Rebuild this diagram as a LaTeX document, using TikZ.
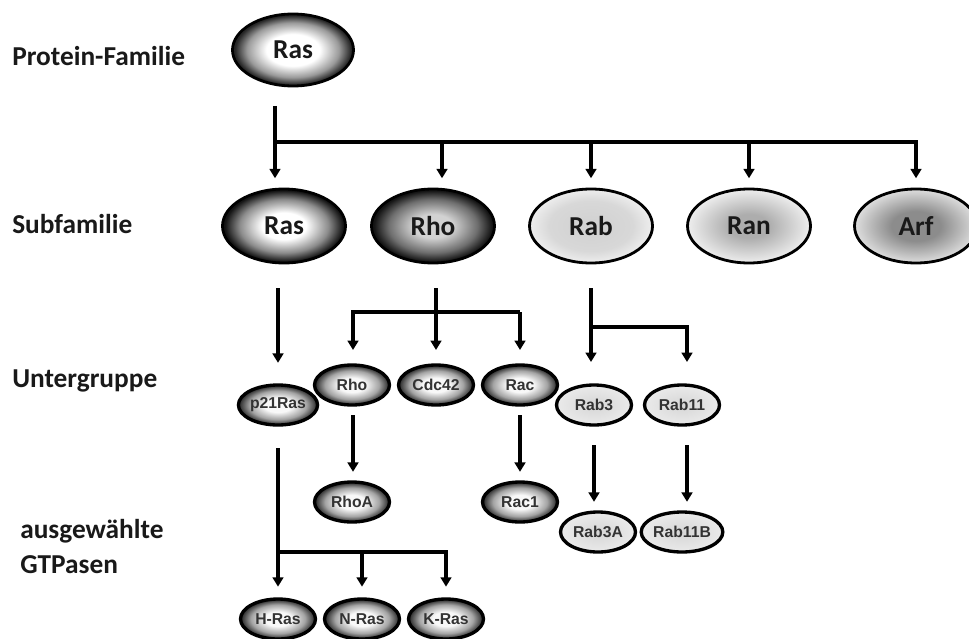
\documentclass[tikz,border=0pt]{standalone}
\usepackage{fontspec}
\setmainfont{Carlito}
\newfontfamily\arialfont{Liberation Sans}
\usetikzlibrary{shapes.geometric,arrows.meta}
\definecolor{cEdgeA}{HTML}{262626}
\definecolor{cMidA}{HTML}{9A9A9A}
\definecolor{cEdgeB}{HTML}{141414}
\definecolor{cMidB}{HTML}{8C8C8C}
\definecolor{cRhoIn}{HTML}{D2D2D2}
\definecolor{cRhoMid}{HTML}{6E6E6E}
\definecolor{cRabIn}{HTML}{D0D0D0}
\definecolor{cRabMid}{HTML}{D8D8D8}
\definecolor{cRabOut}{HTML}{EEEEEE}
\definecolor{cRanIn}{HTML}{ADADAD}
\definecolor{cRanOut}{HTML}{EEEEEE}
\definecolor{cArfIn}{HTML}{8C8C8C}
\definecolor{cArfOut}{HTML}{DEDEDE}
\definecolor{cSmIn}{HTML}{F8F8F8}
\definecolor{cSmMid}{HTML}{A4A4A4}
\definecolor{cSmOut}{HTML}{343434}
\definecolor{cLtIn}{HTML}{D6D6D6}
\definecolor{cLtOut}{HTML}{EAEAEA}
\definecolor{cSmText}{HTML}{333333}
\pgfdeclareradialshading{shRasTop}{\pgfpoint{0bp}{0bp}}{color(0bp)=(white); color(11bp)=(white); color(19bp)=(cMidA); color(24bp)=(cEdgeA); color(50bp)=(cEdgeA)}
\pgfdeclareradialshading{shRasSub}{\pgfpoint{0bp}{0bp}}{color(0bp)=(white); color(9bp)=(white); color(18bp)=(cMidB); color(24bp)=(cEdgeB); color(50bp)=(cEdgeB)}
\pgfdeclareradialshading{shRhoSub}{\pgfpoint{0bp}{0bp}}{color(0bp)=(cRhoIn); color(8bp)=(cRhoIn); color(18bp)=(cRhoMid); color(24bp)=(cEdgeB); color(50bp)=(cEdgeB)}
\pgfdeclareradialshading{shRab}{\pgfpoint{0bp}{0bp}}{color(0bp)=(cRabIn); color(17bp)=(cRabMid); color(25bp)=(cRabOut); color(50bp)=(cRabOut)}
\pgfdeclareradialshading{shRan}{\pgfpoint{0bp}{0bp}}{color(0bp)=(cRanIn); color(8bp)=(cRanIn); color(25bp)=(cRanOut); color(50bp)=(cRanOut)}
\pgfdeclareradialshading{shArf}{\pgfpoint{0bp}{0bp}}{color(0bp)=(cArfIn); color(10bp)=(cArfIn); color(25bp)=(cArfOut); color(50bp)=(cArfOut)}
\pgfdeclareradialshading{shSmDark}{\pgfpoint{0bp}{0bp}}{color(0bp)=(cSmIn); color(9bp)=(cSmIn); color(18bp)=(cSmMid); color(24bp)=(cSmOut); color(50bp)=(cSmOut)}
\pgfdeclareradialshading{shSmLight}{\pgfpoint{0bp}{0bp}}{color(0bp)=(cLtIn); color(25bp)=(cLtOut); color(50bp)=(cLtOut)}
\begin{document}
\begin{tikzpicture}[x=0.75pt,y=-0.75pt,
  big/.style={ellipse, draw=black, line width=2.1pt, minimum width=92.25pt, minimum height=55.5pt, inner sep=0pt,
    font=\fontsize{20.5pt}{24pt}\selectfont\bfseries, text=black!90},
  small/.style={ellipse, draw=black, line width=2.5pt, minimum width=56.25pt, minimum height=30pt, inner sep=0pt,
    font=\arialfont\fontsize{11.8pt}{13pt}\selectfont\bfseries, text=cSmText},
  conn/.style={line width=2.6pt, line join=miter},
  arr/.style={conn, -{Triangle[width=8pt,length=7pt]}},
  lbl/.style={anchor=base west, inner sep=0pt, font=\fontsize{20.5pt}{24pt}\selectfont\bfseries, text=black!90}]
\useasboundingbox[fill=white] (0,0) rectangle (969,638);

% row labels
\node[lbl] (lfam) at (12,66) {Protein-Familie};
\node[lbl] (lsub) at (12,233) {Subfamilie};
\node[lbl] (lunt) at (12,387) {Untergruppe};
\node[lbl] (laus) at (20,538) {ausgewählte};
\node[lbl] (lgtp) at (20,573) {GTPasen};

% protein family
\node[big, shading=shRasTop, minimum width=90.75pt, minimum height=54pt] (rastop) at (293,50) {Ras};

% subfamilies
\node[big, shading=shRasSub] (sras) at (284,226) {Ras};
\node[big, shading=shRhoSub] (srho) at (433,226) {Rho};
\node[big, shading=shRab] (srab) at (591,226) {Rab};
\node[big, shading=shRan] (sran) at (749,226) {Ran};
\node[big, shading=shArf] (sarf) at (916,226) {Arf};

% subgroups
\node[small, shading=shSmDark] (p21) at (278,405) {p21Ras};
\node[small, shading=shSmDark] (urho) at (352,385) {Rho};
\node[small, shading=shSmDark] (cdc) at (436,385) {Cdc42};
\node[small, shading=shSmDark] (rac) at (520,385) {Rac};
\node[small, shading=shSmLight] (rab3) at (594,405) {Rab3};
\node[small, shading=shSmLight] (rab11) at (682,405) {Rab11};

% selected GTPases
\node[small, shading=shSmDark] (rhoa) at (352,502) {RhoA};
\node[small, shading=shSmDark] (rac1) at (520,502) {Rac1};
\node[small, shading=shSmLight] (rab3a) at (598,532) {Rab3A};
\node[small, shading=shSmLight] (rab11b) at (682,532) {Rab11B};
\node[small, shading=shSmDark] (hras) at (278,619) {H-Ras};
\node[small, shading=shSmDark] (nras) at (362,619) {N-Ras};
\node[small, shading=shSmDark] (kras) at (446,619) {K-Ras};

% connectors: family -> subfamilies
\coordinate (tA) at (275,106);
\coordinate (tB) at (275,142);
\coordinate (tRho) at (442,142);
\coordinate (tRab) at (591,142);
\coordinate (tRan) at (749,142);
\coordinate (tArf) at (916,142);
\draw[arr, shorten >=7pt] (tA) -- (tA |- sras.north);
\draw[arr, shorten >=7pt] (tB) -- (tArf) -- (tArf |- sarf.north);
\draw[arr, shorten >=7pt] (tRho) -- (tRho |- srho.north);
\draw[arr, shorten >=7pt] (tRab) -- (tRab |- srab.north);
\draw[arr, shorten >=7pt] (tRan) -- (tRan |- sran.north);

% subfamilies -> subgroups
\coordinate (rasS) at (278,288);
\draw[arr, shorten >=15.4pt] (rasS) -- (rasS |- p21.north);
\coordinate (rhoS) at (436,288);
\coordinate (rhoL) at (353,312);
\coordinate (rhoR) at (520,312);
\draw[arr, shorten >=10pt] (rhoS) -- (rhoS |- cdc.north);
\draw[arr, shorten >=10pt] (rhoR) -- (rhoL) -- (rhoL |- urho.north);
\draw[arr, shorten >=10pt] (rhoR) -- (rhoR |- rac.north);
\coordinate (rabS) at (591,288);
\coordinate (rabJ) at (591,327);
\coordinate (rabK) at (687,327);
\draw[arr, shorten >=16pt] (rabS) -- (rabS |- rab3.north);
\draw[arr, shorten >=16pt] (rabJ) -- (rabK) -- (rabK |- rab11.north);

% subgroups -> selected GTPases
\coordinate (rhoD) at (353,415);
\draw[arr, shorten >=6.4pt] (rhoD) -- (rhoD |- rhoa.north);
\coordinate (racD) at (520,415);
\draw[arr, shorten >=6.4pt] (racD) -- (racD |- rac1.north);
\coordinate (rab3D) at (594,445);
\draw[arr, shorten >=6.4pt] (rab3D) -- (rab3D |- rab3a.north);
\coordinate (rab11D) at (687,445);
\draw[arr, shorten >=6.4pt] (rab11D) -- (rab11D |- rab11b.north);
\coordinate (p21D) at (278,448);
\coordinate (p21J) at (278,552);
\coordinate (p21N) at (362,552);
\coordinate (p21K) at (446,552);
\draw[arr, shorten >=8pt] (p21D) -- (p21D |- hras.north);
\draw[arr, shorten >=8pt] (p21J) -- (p21K) -- (p21K |- kras.north);
\draw[arr, shorten >=8pt] (p21N) -- (p21N |- nras.north);
\end{tikzpicture}
\end{document}
